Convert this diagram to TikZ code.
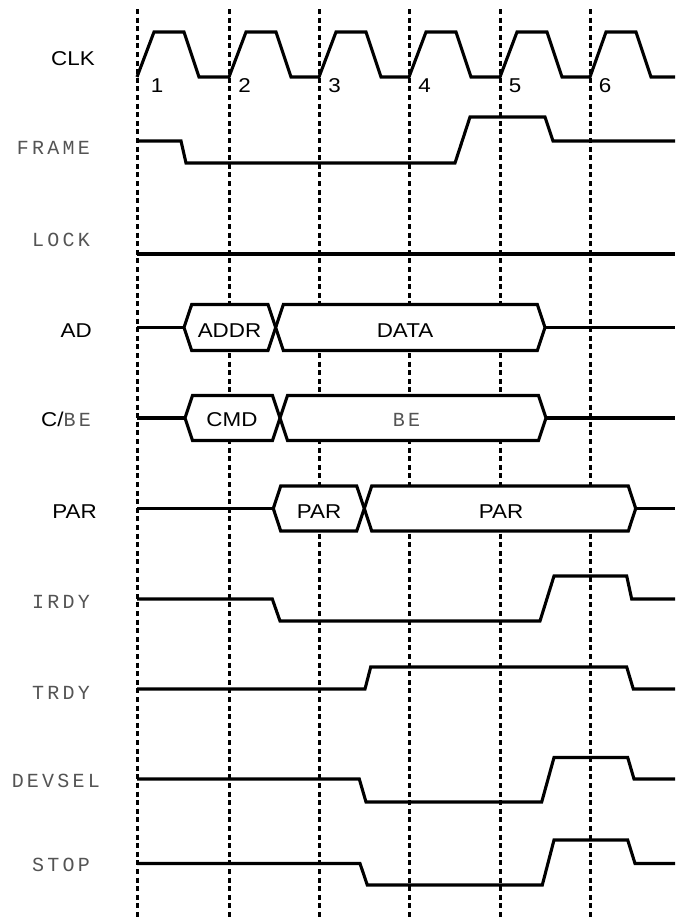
\documentclass[tikz,border=0pt]{standalone}
\usepackage{fontspec}
\setmainfont[FakeStretch=1.12]{Liberation Sans}
\newfontfamily\monof[LetterSpace=16]{Liberation Mono}
\definecolor{lblgray}{gray}{0.33}
\begin{document}
\begin{tikzpicture}[x=1pt,y=-1pt,
  wave/.style={line width=3.1pt, line join=miter},
  busbox/.style={wave, fill=white},
  gridline/.style={line width=3pt, dash pattern=on 5pt off 3.6pt},
  slbl/.style={font=\fontsize{20}{24}\selectfont, inner sep=0pt, anchor=base east},
  mlbl/.style={font=\monof\fontsize{20}{24}\selectfont, text=lblgray, inner sep=0pt, anchor=base east},
  btxt/.style={font=\fontsize{20}{24}\selectfont, inner sep=0pt, anchor=base},
  mtxt/.style={font=\monof\fontsize{20}{24}\selectfont, text=lblgray, inner sep=0pt, anchor=base}]
\useasboundingbox (0,0) rectangle (675,921);

% clock edges (dashed)
\foreach \x/\n in {137/g1,229/g2,319/g3,409/g4,500/g5,590/g6}{
  \coordinate (\n t) at (\x,9);
  \coordinate (\n b) at (\x,917);
  \draw[gridline] (\n t) -- (\n b);
}

% CLK
\draw[wave] (137,77)--(154,32)--(184,32)--(199,77)--(229,77)--(246,32)--(276,32)--(291,77)
  --(319,77)--(336,32)--(366,32)--(381,77)--(409,77)--(426,32)--(456,32)--(471,77)
  --(500,77)--(517,32)--(547,32)--(562,77)--(590,77)--(606,32)--(636,32)--(651,77)--(675,77);
\node[btxt] (n1) at (157,92.7) {1};
\node[btxt] (n2) at (244.5,92.7) {2};
\node[btxt] (n3) at (334.5,92.7) {3};
\node[btxt] (n4) at (424.5,92.7) {4};
\node[btxt] (n5) at (515,92.7) {5};
\node[btxt] (n6) at (605,92.7) {6};

% FRAME
\draw[wave] (137,141)--(181,141)--(186,163)--(455,163)--(470,117)--(545,117)--(553,141)--(675,141);
% LOCK
\draw[wave] (137,254)--(675,254);

% AD
\draw[wave] (137,327.5)--(184,327.5);
\draw[busbox] (184,327.5)--(191.7,304.5)--(268,304.5)--(275.7,327.5)--(268,350.5)--(191.7,350.5)--cycle;
\draw[busbox] (275.7,327.5)--(283.3,304.5)--(537.3,304.5)--(545,327.5)--(537.3,350.5)--(283.3,350.5)--cycle;
\draw[wave] (545,327.5)--(675,327.5);
\node[btxt] (addr) at (229.5,337.3) {ADDR};
\node[btxt] (data) at (405,337.3) {DATA};

% C/BE
\draw[wave] (137,418)--(185,418);
\draw[busbox] (185,418)--(192.5,395.5)--(272.5,395.5)--(280,418)--(272.5,440.5)--(192.5,440.5)--cycle;
\draw[busbox] (280,418)--(287.5,395.5)--(538.5,395.5)--(546,418)--(538.5,440.5)--(287.5,440.5)--cycle;
\draw[wave] (546,418)--(675,418);
\node[btxt] (cmd) at (232,426) {CMD};
\node[mtxt] (be) at (406.5,426.7) {BE};

% PAR
\draw[wave] (137,508.5)--(273.3,508.5);
\draw[busbox] (273.3,508.5)--(280.7,486)--(356.7,486)--(364.3,508.5)--(356.7,531)--(280.7,531)--cycle;
\draw[busbox] (364.3,508.5)--(371.7,486)--(628.3,486)--(635.7,508.5)--(628.3,531)--(371.7,531)--cycle;
\draw[wave] (635.7,508.5)--(675,508.5);
\node[btxt] (par1) at (319,518.3) {PAR};
\node[btxt] (par2) at (501,518.3) {PAR};

% IRDY
\draw[wave] (137,599)--(272.3,599)--(280,621)--(540,621)--(554,576)--(626.7,576)--(631.7,599)--(675,599);
% TRDY
\draw[wave] (137,689)--(365,689)--(370.7,667)--(626.7,667)--(633.3,689)--(675,689);
% DEVSEL
\draw[wave] (137,779)--(359.3,779)--(366,802)--(541.7,802)--(554,757.5)--(627.7,757.5)--(634,779)--(675,779);
% STOP
\draw[wave] (137,863.5)--(360,863.5)--(367.3,885)--(542.3,885)--(554,840)--(627.7,840)--(635,863.5)--(675,863.5);

% signal labels
\node[slbl] (lclk) at (95,65) {CLK};
\node[mlbl] (lframe) at (90,154.3) {FRAME};
\node[mlbl] (llock) at (90,246) {LOCK};
\node[slbl] (lad) at (92,337.3) {AD};
\node[slbl] (lcbe) at (91,426.7) {C/{\monof\fontsize{20}{24}\selectfont\color{lblgray}BE}};
\node[slbl] (lpar) at (97,518.3) {PAR};
\node[mlbl] (lirdy) at (90,608.3) {IRDY};
\node[mlbl] (ltrdy) at (90,699.3) {TRDY};
\node[mlbl] (ldevsel) at (100,787.7) {DEVSEL};
\node[mlbl] (lstop) at (90,871) {STOP};
\end{tikzpicture}
\end{document}
